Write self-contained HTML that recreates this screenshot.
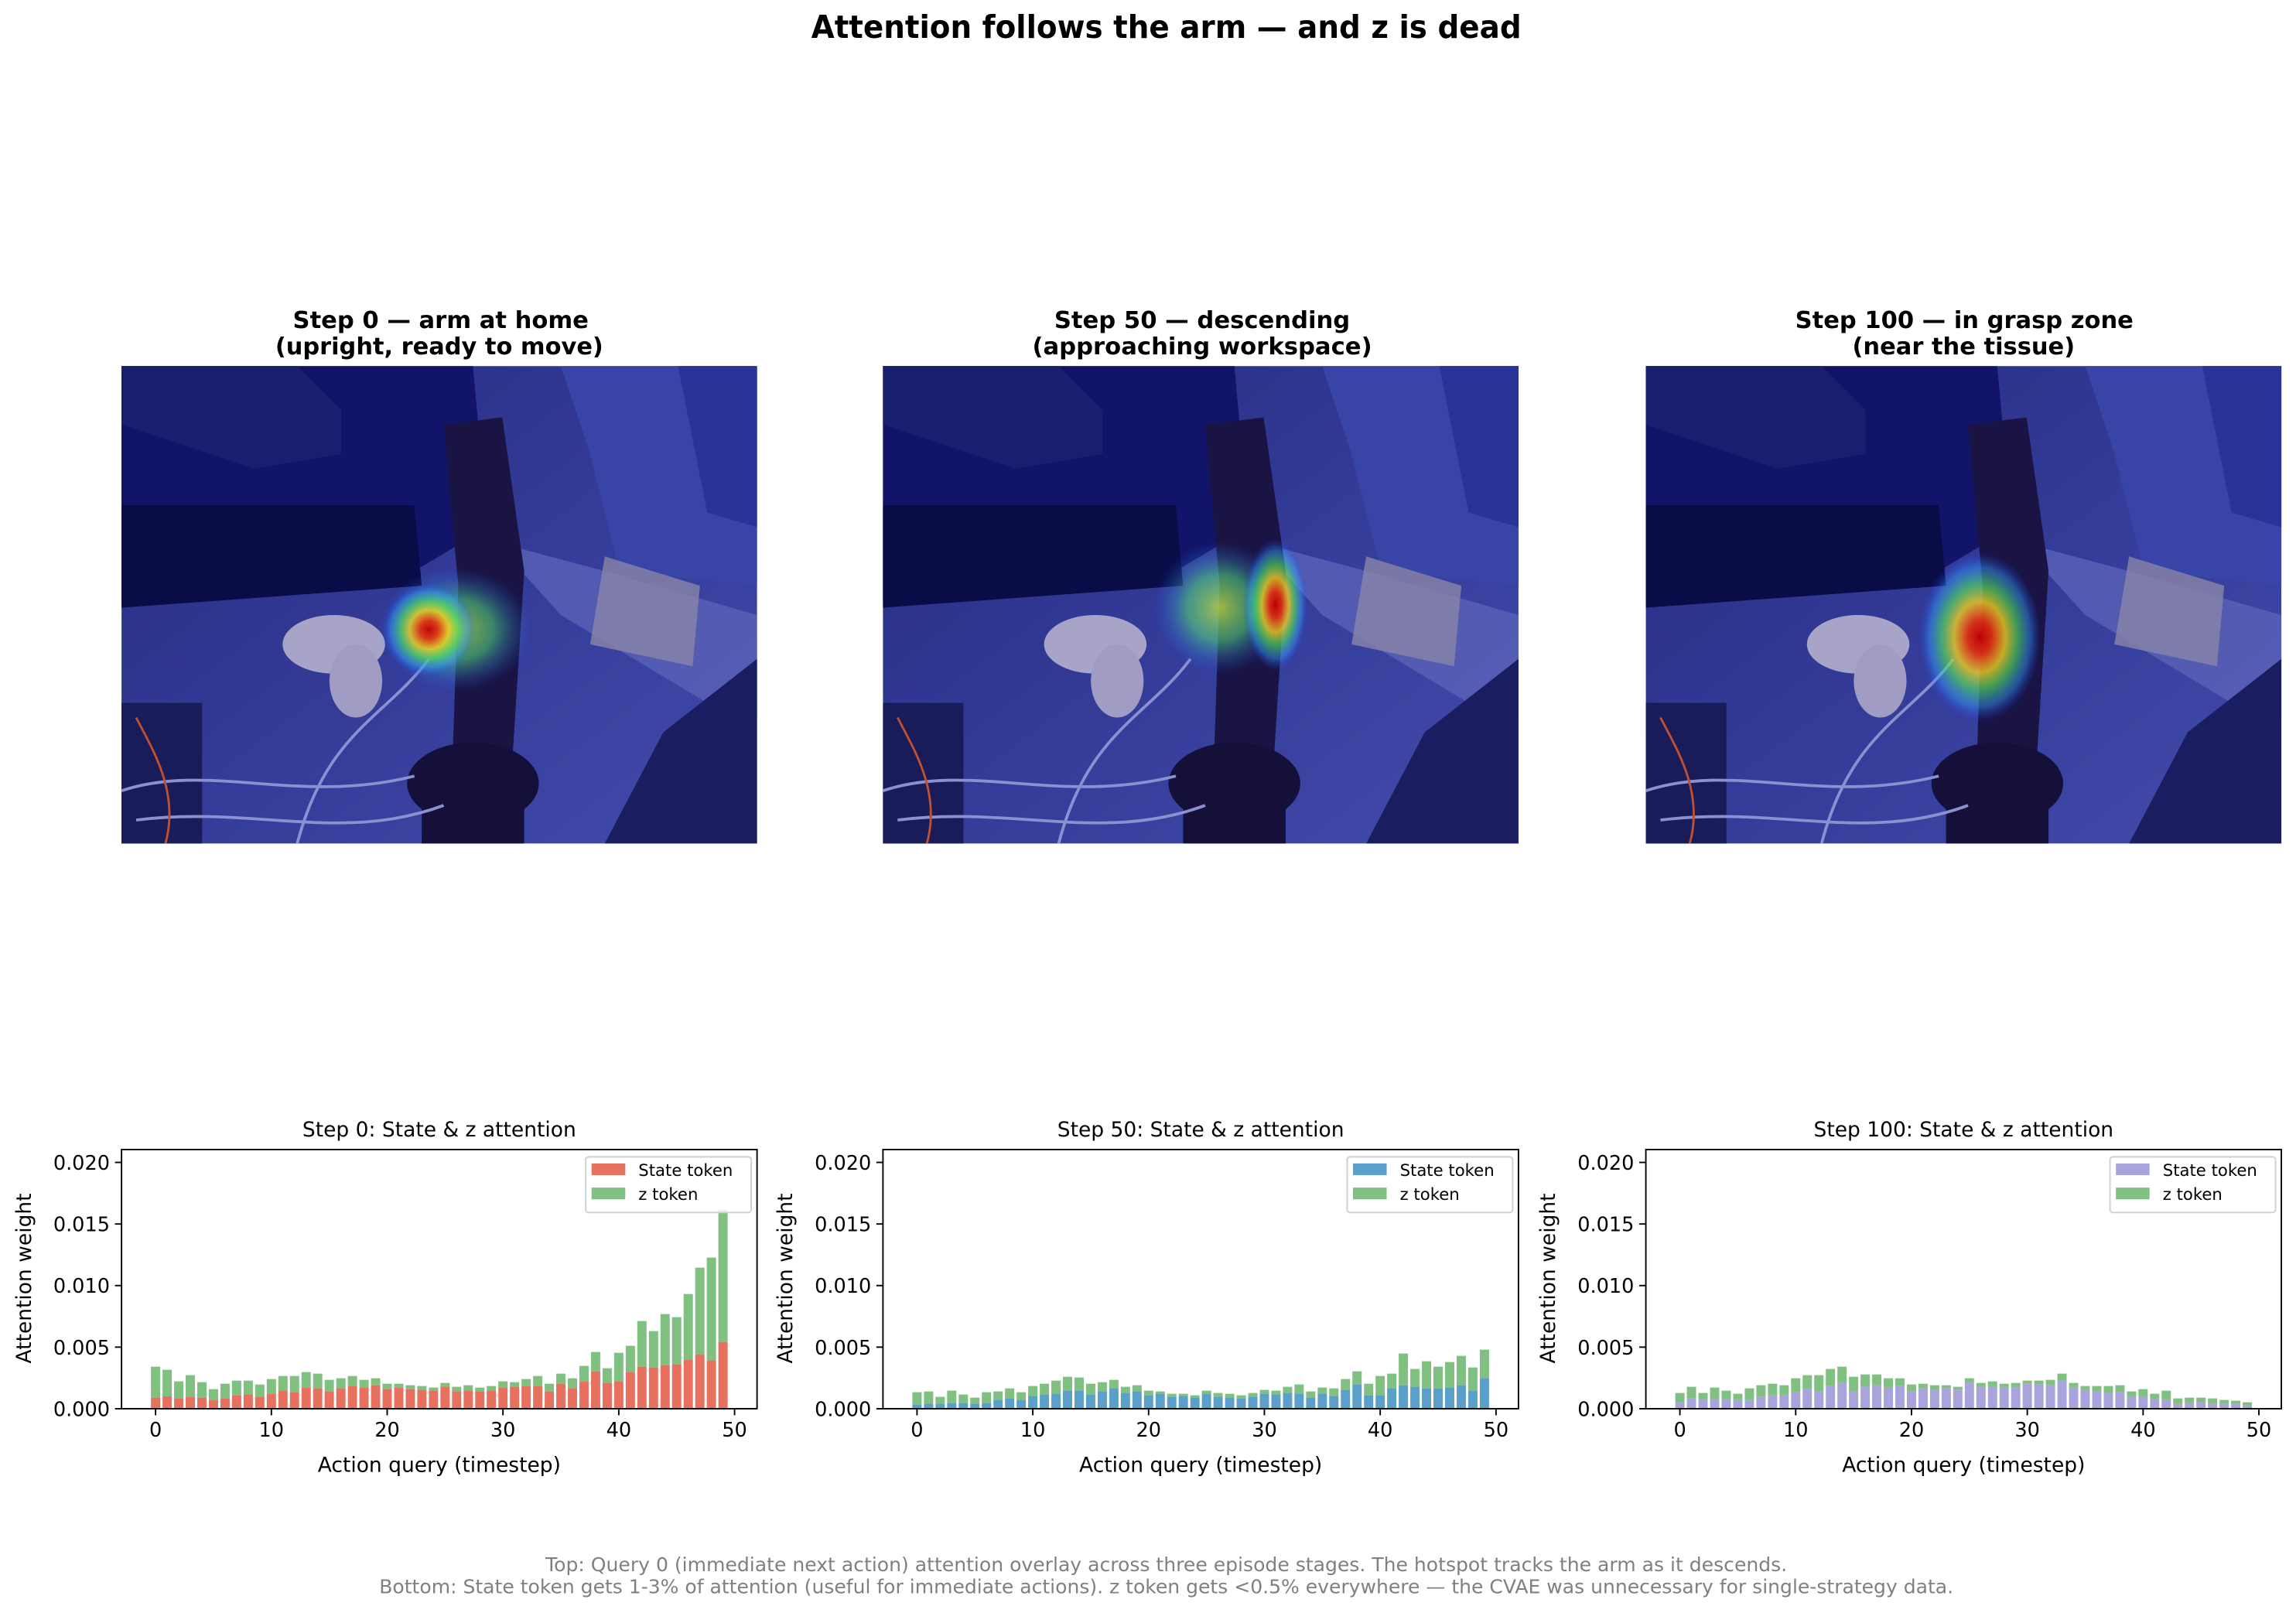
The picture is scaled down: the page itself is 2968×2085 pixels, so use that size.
<!DOCTYPE html>
<html><head><meta charset="utf-8"><style>
html,body{margin:0;padding:0;background:#fff;}
svg{display:block;}
text{font-family:"DejaVu Sans","Liberation Sans",sans-serif;}
</style></head><body>
<svg id="s" xmlns="http://www.w3.org/2000/svg" width="2968" height="2085" viewBox="0 0 1568 1101.5">
<defs>
<radialGradient id="heat">
<stop offset="0" stop-color="#c00000" stop-opacity="0.95"/>
<stop offset="0.2" stop-color="#e83010" stop-opacity="0.9"/>
<stop offset="0.42" stop-color="#f0d020" stop-opacity="0.8"/>
<stop offset="0.62" stop-color="#50e060" stop-opacity="0.65"/>
<stop offset="0.82" stop-color="#30a0ff" stop-opacity="0.45"/>
<stop offset="1" stop-color="#2040ff" stop-opacity="0"/>
</radialGradient>
<radialGradient id="heatg">
<stop offset="0" stop-color="#c0e040" stop-opacity="0.8"/>
<stop offset="0.5" stop-color="#50d080" stop-opacity="0.6"/>
<stop offset="1" stop-color="#2060ff" stop-opacity="0"/>
</radialGradient>
<linearGradient id="floor" x1="0" y1="0" x2="1" y2="1">
<stop offset="0" stop-color="#262b80"/>
<stop offset="0.6" stop-color="#363e9c"/>
<stop offset="1" stop-color="#444cac"/>
</linearGradient>
<g id="scene">
<rect x="0" y="0" width="434" height="326" fill="url(#floor)"/>
<polygon points="0,0 240,0 250,110 200,140 0,160" fill="#12146a"/>
<polygon points="0,95 200,95 205,150 0,165" fill="#0a0c48"/>
<polygon points="0,0 120,0 150,30 150,60 90,70 0,40" fill="#1a1e6e"/>
<polygon points="300,0 434,0 434,150 340,140 320,60" fill="#3844a6"/>
<polygon points="380,0 434,0 434,110 400,100" fill="#2a3498"/>
<polygon points="255,120 330,140 434,170 434,240 400,230 300,170" fill="#5a62b8" opacity="0.8"/>
<polygon points="330,130 395,150 390,205 320,190" fill="#8a85a8" opacity="0.8"/>
<polygon points="370,250 434,200 434,326 330,326" fill="#1a1e60"/>
<rect x="0" y="230" width="55" height="96" fill="#1a1c5a"/>
<ellipse cx="145" cy="190" rx="35" ry="20" fill="#a8a4c8"/>
<ellipse cx="160" cy="215" rx="18" ry="25" fill="#a09cc4"/>
<polygon points="220,40 260,35 275,140 265,300 225,300 230,150" fill="#1a1444"/>
<ellipse cx="240" cy="285" rx="45" ry="28" fill="#15103a"/>
<rect x="205" y="285" width="70" height="41" fill="#15103a"/>
<path d="M0,290 C60,270 120,300 200,280 M10,310 C90,300 150,326 220,300 M120,326 C140,250 180,240 210,200" stroke="#8a90d0" stroke-width="2" fill="none"/>
<path d="M30,326 C40,290 20,260 10,240" stroke="#c05030" stroke-width="1.5" fill="none"/>
</g>
</defs>

<text x="796.5" y="26" font-size="21.5" font-weight="bold" text-anchor="middle" textLength="485" lengthAdjust="spacingAndGlyphs">Attention follows the arm — and z is dead</text>

<text x="301" y="224" font-size="16" font-weight="bold" text-anchor="middle" textLength="202" lengthAdjust="spacingAndGlyphs">Step 0 — arm at home</text>
<text x="300" y="242" font-size="16" font-weight="bold" text-anchor="middle" textLength="224" lengthAdjust="spacingAndGlyphs">(upright, ready to move)</text>
<text x="821" y="224" font-size="16" font-weight="bold" text-anchor="middle" textLength="202" lengthAdjust="spacingAndGlyphs">Step 50 — descending</text>
<text x="821" y="242" font-size="16" font-weight="bold" text-anchor="middle" textLength="232" lengthAdjust="spacingAndGlyphs">(approaching workspace)</text>
<text x="1341.5" y="224" font-size="16" font-weight="bold" text-anchor="middle" textLength="231" lengthAdjust="spacingAndGlyphs">Step 100 — in grasp zone</text>
<text x="1341" y="242" font-size="16" font-weight="bold" text-anchor="middle" textLength="152" lengthAdjust="spacingAndGlyphs">(near the tissue)</text>

<g transform="translate(83,250)"><use href="#scene"/>
<ellipse cx="228" cy="180" rx="52" ry="42" fill="url(#heatg)"/>
<ellipse cx="210" cy="180" rx="32" ry="32" fill="url(#heat)"/>
</g>
<g transform="translate(603,250)"><use href="#scene"/>
<ellipse cx="230" cy="165" rx="45" ry="45" fill="url(#heatg)"/>
<ellipse cx="268" cy="163" rx="22" ry="45" fill="url(#heat)"/>
</g>
<g transform="translate(1124,250)"><use href="#scene"/>
<ellipse cx="228" cy="185" rx="42" ry="58" fill="url(#heat)"/>
</g>

<g id="charts"></g>

<text x="796.5" y="1073" font-size="13" fill="#808080" text-anchor="middle" textLength="848" lengthAdjust="spacingAndGlyphs">Top: Query 0 (immediate next action) attention overlay across three episode stages. The hotspot tracks the arm as it descends.</text>
<text x="796.5" y="1088" font-size="13" fill="#808080" text-anchor="middle" textLength="1075" lengthAdjust="spacingAndGlyphs">Bottom: State token gets 1-3% of attention (useful for immediate actions). z token gets &lt;0.5% everywhere — the CVAE was unnecessary for single-strategy data.</text>
</svg>
<script>
var G=[
[1035,1047,1092,1068,1095,1122,1101,1089,1089,1104,1083,1071,1071,1056,1062,1086,1080,1071,1086,1080,1101,1101,1107,1110,1116,1098,1113,1107,1116,1110,1092,1095,1083,1071,1101,1062,1080,1032,978,1041,981,954,858,897,831,843,753,651,612,426],
[1134,1131,1152,1128,1143,1155,1134,1131,1119,1134,1110,1101,1089,1074,1077,1101,1095,1086,1113,1107,1128,1131,1140,1140,1146,1128,1137,1140,1146,1137,1125,1128,1113,1104,1131,1116,1119,1083,1053,1101,1071,1062,984,1044,1014,1035,1017,993,1038,969],
[1137,1113,1137,1116,1128,1140,1119,1107,1101,1107,1080,1068,1068,1044,1035,1074,1065,1065,1080,1080,1104,1101,1107,1107,1113,1080,1098,1092,1101,1098,1089,1089,1086,1062,1098,1110,1110,1110,1107,1131,1122,1140,1128,1158,1155,1155,1158,1164,1167,1173]];
var S=[
[1155,1150,1158,1152,1155,1164,1158,1146,1143,1152,1140,1128,1134,1116,1119,1131,1119,1110,1116,1107,1122,1116,1122,1125,1128,1113,1131,1128,1131,1128,1116,1113,1110,1110,1131,1101,1119,1092,1053,1098,1092,1056,1035,1038,1029,1026,1008,987,1011,939],
[1182,1179,1179,1176,1176,1179,1176,1164,1158,1164,1149,1143,1140,1128,1128,1143,1131,1119,1137,1131,1146,1140,1152,1149,1155,1140,1152,1155,1158,1152,1140,1143,1137,1140,1155,1140,1149,1125,1104,1146,1146,1119,1107,1113,1119,1119,1116,1107,1128,1080],
[1173,1158,1161,1161,1161,1164,1164,1152,1146,1146,1134,1122,1131,1110,1098,1131,1113,1107,1116,1110,1131,1119,1125,1119,1125,1098,1113,1113,1116,1116,1101,1104,1107,1089,1116,1125,1131,1137,1134,1152,1152,1161,1164,1179,1176,1173,1179,1179,1179,1185]];
var cols=["#e8705e","#5ba0ca","#aaa4dc"], green="#80c080";
var lefts=[83,603,1124], titles=["Step 0: State &amp; z attention","Step 50: State &amp; z attention","Step 100: State &amp; z attention"];
var tw=[195,205,215];
var out="", y0=962, yTop=785, k=0.1761;
function Y(v){return y0-v*8410;}
for(var c=0;c<3;c++){
 var L=lefts[c], W=434, R=L+W;
 var xs=function(t){return L+(t+2.94)*(W/54.88);};
 out+='<text x="'+(L+W/2)+'" y="776" font-size="14" text-anchor="middle">'+titles[c]+'</text>';
 for(var i=0;i<50;i++){
  var x=xs(i-0.4), w=0.8*W/54.88;
  var gt=y0-(1198-G[c][i])*k, st=y0-(1198-S[c][i])*k;
  out+='<rect x="'+x.toFixed(2)+'" y="'+gt.toFixed(2)+'" width="'+w.toFixed(2)+'" height="'+(st-gt).toFixed(2)+'" fill="'+green+'"/>';
  out+='<rect x="'+x.toFixed(2)+'" y="'+st.toFixed(2)+'" width="'+w.toFixed(2)+'" height="'+(y0-st).toFixed(2)+'" fill="'+cols[c]+'"/>';
 }
 out+='<rect x="'+L+'" y="'+yTop+'" width="'+W+'" height="'+(y0-yTop)+'" fill="none" stroke="#000" stroke-width="1"/>';
 for(var t=0;t<=50;t+=10){var xx=xs(t);out+='<line x1="'+xx+'" y1="'+y0+'" x2="'+xx+'" y2="'+(y0+4.5)+'" stroke="#000"/><text x="'+xx+'" y="'+(y0+19)+'" font-size="13.5" text-anchor="middle">'+t+'</text>';}
 var labs=["0.000","0.005","0.010","0.015","0.020"];
 for(var j=0;j<5;j++){var yy=Y(j*0.005);out+='<line x1="'+(L-4.5)+'" y1="'+yy+'" x2="'+L+'" y2="'+yy+'" stroke="#000"/><text x="'+(L-8)+'" y="'+(yy+5)+'" font-size="13.5" text-anchor="end">'+labs[j]+'</text>';}
 out+='<text x="'+(L+W/2)+'" y="1005" font-size="14" text-anchor="middle">Action query (timestep)</text>';
 out+='<text transform="translate('+(L-62)+',873) rotate(-90)" font-size="14" text-anchor="middle">Attention weight</text>';
 var lx=R-117;
 out+='<rect x="'+lx+'" y="790" width="113" height="38" rx="2" fill="#fff" fill-opacity="0.8" stroke="#d0d0d0"/>';
 out+='<rect x="'+(lx+4)+'" y="794.5" width="23" height="8" fill="'+cols[c]+'"/><text x="'+(lx+36)+'" y="803" font-size="11.2">State token</text>';
 out+='<rect x="'+(lx+4)+'" y="811" width="23" height="8" fill="'+green+'"/><text x="'+(lx+36)+'" y="819.5" font-size="11.2">z token</text>';
}
document.getElementById("charts").innerHTML=out;
</script>
</body></html>
